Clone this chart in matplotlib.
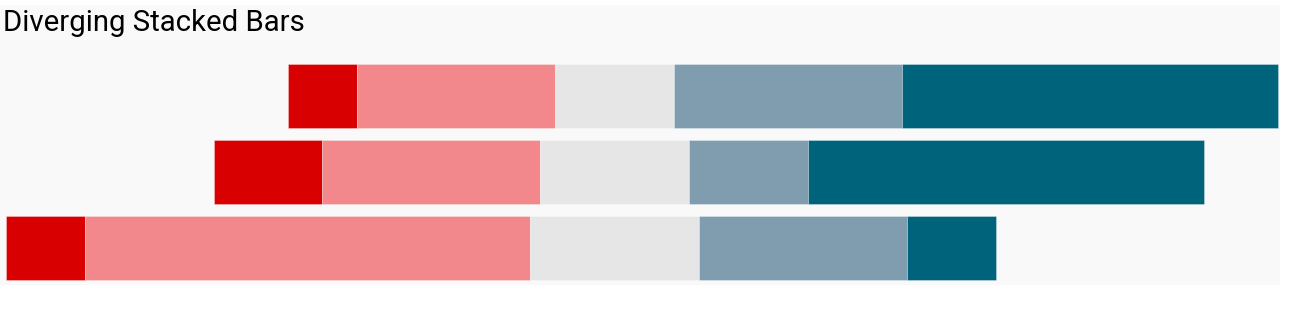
import numpy as np
from matplotlib import pyplot as plt

# Share of answers per row, in percent (strongly disagree .. strongly agree)
rows = ["A", "B", "C"]
strong_neg = [7, 11, 8]
neg = [20, 22, 45]
neutral = [12, 15, 17]
pos = [23, 12, 21]
strong_pos = [38, 40, 9]

colors = ["#d80000", "#f2888b", "#e6e6e6", "#809db0", "#00637c"]

W, H = 1296, 312
fig = plt.figure(figsize=(W / 100, H / 100), dpi=100)
fig.patch.set_facecolor("white")

# axes spans the light panel (x 0..1280 px, y 5..285 px)
ax = fig.add_axes([0, 1 - 285 / H, 1280 / W, 280 / H])
ax.set_facecolor("#f9f9f9")

# neutral segment is centred on zero
segs = np.array([strong_neg, neg, neutral, pos, strong_pos], dtype=float)
left = -(segs[0] + segs[1] + segs[2] / 2)
y = np.arange(len(rows))
for k in range(5):
    ax.barh(y, segs[k], left=left, height=64 / 76, color=colors[k],
            edgecolor=(1, 1, 1, 0.35), linewidth=0.6)
    left = left + segs[k]

# map pixels: centre at 614.5 px, 9.9 px per percent
ax.set_xlim((0 - 614.5) / 9.9, (1280 - 614.5) / 9.9)
ax.set_ylim((285 - 96) / 76, (5 - 96) / 76)
for s in ax.spines.values():
    s.set_visible(False)
ax.set_xticks([])
ax.set_yticks([])

fig.text(3 / W, 1 - 23 / H, "Diverging Stacked Bars", fontsize=21.2,
         family="Roboto", va="center", ha="left", color="black")

fig.savefig("out.png", dpi=100)
